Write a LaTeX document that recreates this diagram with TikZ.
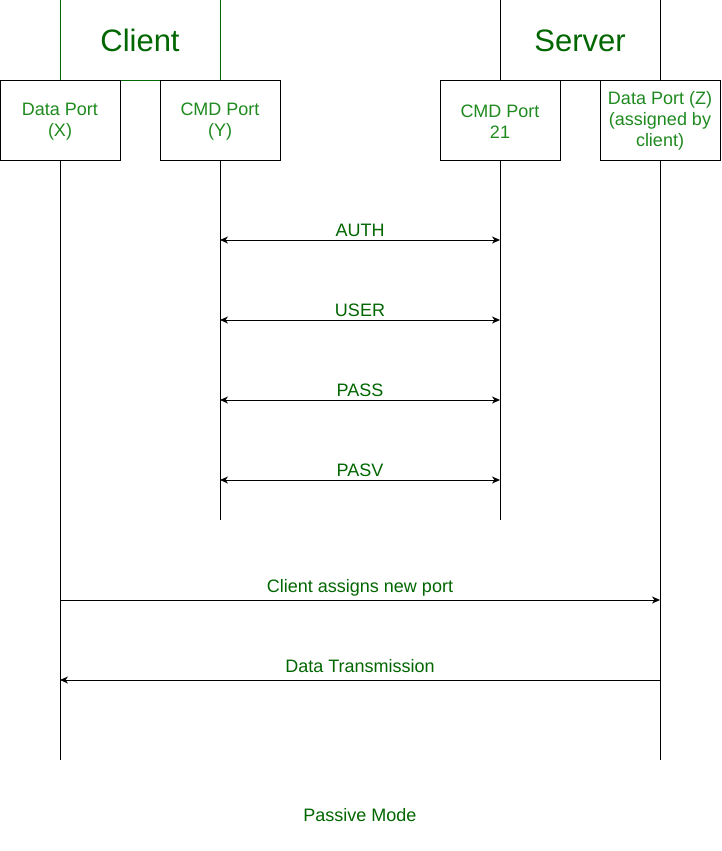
\documentclass[tikz,border=0pt]{standalone}
\usepackage{fontspec}
\setmainfont{Liberation Sans}
\usetikzlibrary{arrows.meta}
\definecolor{dg}{HTML}{006600}
\definecolor{pg}{HTML}{1F8A1F}
\tikzset{
  titlebox/.style={draw=black, fill=white, minimum width=160pt, minimum height=80pt, inner sep=0pt, line width=1pt, font=\fontsize{31}{36}\selectfont, text=dg, text height=24pt, text depth=0pt},
  portbox/.style={draw=black, fill=white, minimum width=120pt, minimum height=80pt, inner sep=0pt, line width=1pt, align=center, font=\fontsize{18}{21.5}\selectfont, text=pg},
  portlabel/.style={inner sep=0pt, align=center, font=\fontsize{18}{21}\selectfont, text=pg},
  msglabel/.style={anchor=base, inner sep=0pt, font=\fontsize{18}{21}\selectfont, text=dg},
  lifeline/.style={draw=black, line width=1pt},
  msgarrow/.style={draw=black, line width=1pt, -{Stealth[length=8pt,width=7pt,inset=2.5pt]}},
  bimsg/.style={draw=black, line width=1pt, {Stealth[length=8pt,width=7pt,inset=2.5pt]}-{Stealth[length=8pt,width=7pt,inset=2.5pt]}}
}
\begin{document}
\begin{tikzpicture}[x=1pt,y=-1pt]
\useasboundingbox[fill=white] (0,0) rectangle (721,851);
% title boxes
\node[titlebox, draw=dg] (client) at (140,40) {Client};
\node[titlebox] (server) at (580,40) {Server};
% port boxes
\node[portbox] (dpx) at (60,120) {};
\node[portbox] (cmdy) at (220,120) {};
\node[portbox] (cmd21) at (500,120) {};
\node[portbox] (dpz) at (660,120) {};
\node[portlabel] (tdpx) at (60,122) {Data Port\\(X)};
\node[portlabel] (tcmdy) at (220,122) {CMD Port\\(Y)};
\node[portlabel] (tcmd21) at (500,122) {CMD Port\\21};
\node[portlabel] (tdpz) at (660,121) {Data Port (Z)\\(assigned by\\client)};
% lifeline ends
\coordinate (dpxend) at (60,760);
\coordinate (cmdyend) at (220,520);
\coordinate (cmd21end) at (500,520);
\coordinate (dpzend) at (660,760);
\draw[lifeline] (dpx.south) -- (dpxend);
\draw[lifeline] (cmdy.south) -- (cmdyend);
\draw[lifeline] (cmd21.south) -- (cmd21end);
\draw[lifeline] (dpz.south) -- (dpzend);
% message points
\coordinate (authL) at (220,240); \coordinate (authR) at (500,240);
\coordinate (userL) at (220,320); \coordinate (userR) at (500,320);
\coordinate (passL) at (220,400); \coordinate (passR) at (500,400);
\coordinate (pasvL) at (220,480); \coordinate (pasvR) at (500,480);
\coordinate (newL) at (60,600); \coordinate (newR) at (660,600);
\coordinate (dataL) at (60,680); \coordinate (dataR) at (660,680);
\draw[bimsg] (authL) -- (authR);
\draw[bimsg] (userL) -- (userR);
\draw[bimsg] (passL) -- (passR);
\draw[bimsg] (pasvL) -- (pasvR);
\draw[msgarrow] (newL) -- (newR);
\draw[msgarrow] (dataR) -- (dataL);
% labels
\node[msglabel] (lauth) at (360,236) {AUTH};
\node[msglabel] (luser) at (360,316) {USER};
\node[msglabel] (lpass) at (360,396) {PASS};
\node[msglabel] (lpasv) at (360,476) {PASV};
\node[msglabel] (lnew) at (360,592) {Client assigns new port};
\node[msglabel] (ldata) at (360,672) {Data Transmission};
\node[msglabel] (lmode) at (360,821) {Passive Mode};
\end{tikzpicture}
\end{document}
